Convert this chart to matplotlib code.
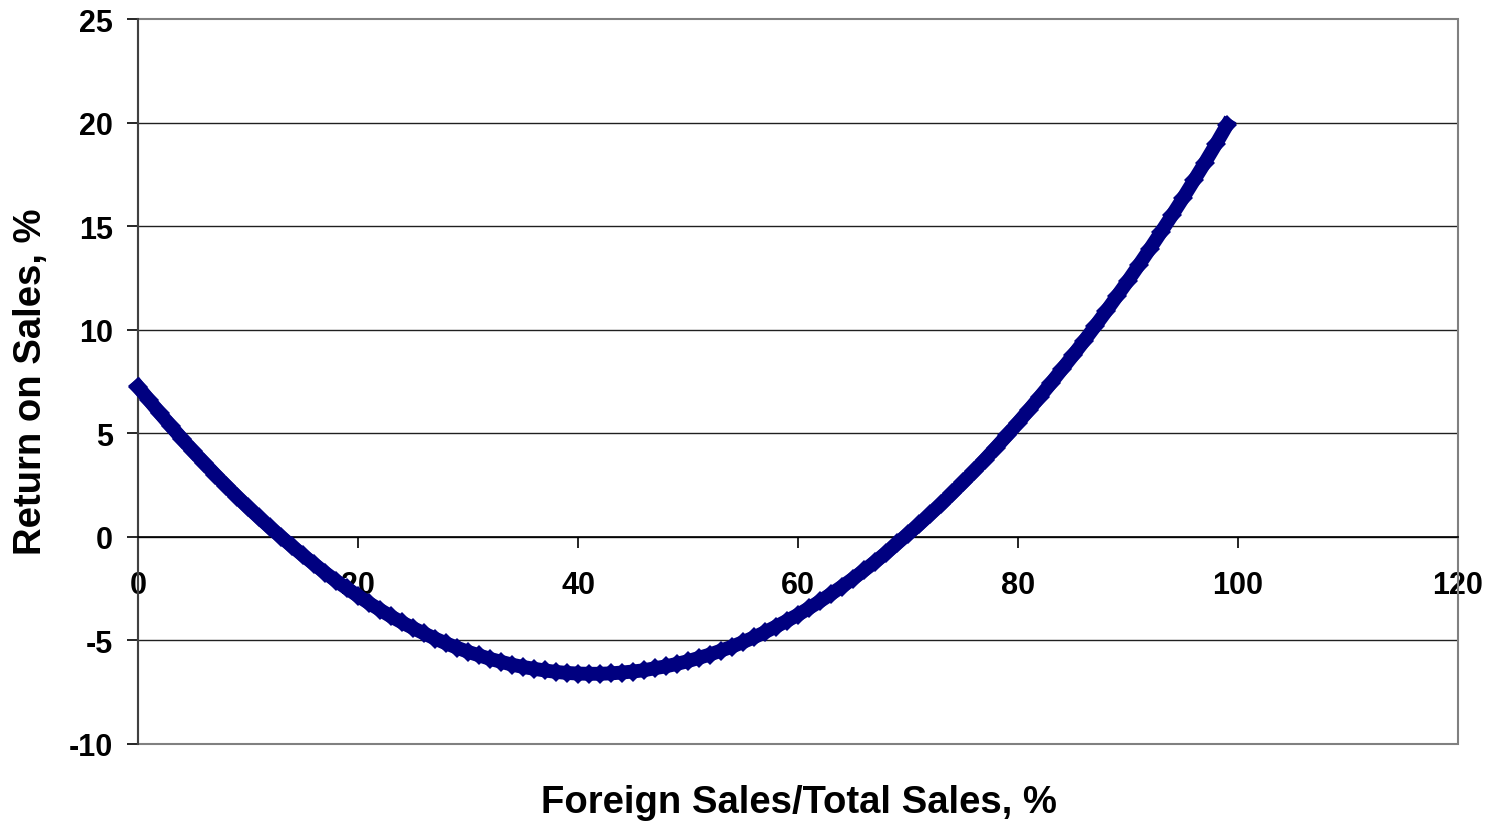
import matplotlib.pyplot as plt
from matplotlib.patches import Rectangle

plt.rcParams['font.family'] = ['Liberation Sans', 'DejaVu Sans']
plt.rcParams['axes.unicode_minus'] = False

# foreign sales share (%) and return on sales (%)
foreign_share = list(range(0, 100))
return_on_sales = [
    7.25, 6.60, 5.96, 5.34, 4.73, 4.14, 3.57, 3.01, 2.47, 1.94,
    1.43, 0.94, 0.46, 0.00, -0.45, -0.89, -1.31, -1.73, -2.12, -2.49,
    -2.85, -3.20, -3.52, -3.84, -4.13, -4.40, -4.66, -4.91, -5.14, -5.35,
    -5.55, -5.72, -5.89, -6.03, -6.17, -6.28, -6.37, -6.45, -6.52, -6.57,
    -6.60, -6.61, -6.61, -6.59, -6.55, -6.50, -6.44, -6.34, -6.25, -6.13,
    -6.00, -5.84, -5.68, -5.49, -5.30, -5.08, -4.85, -4.60, -4.33, -4.05,
    -3.76, -3.44, -3.11, -2.76, -2.40, -2.02, -1.62, -1.21, -0.78, -0.32,
    0.14, 0.60, 1.09, 1.58, 2.10, 2.63, 3.17, 3.73, 4.31, 4.90,
    5.51, 6.13, 6.77, 7.42, 8.09, 8.76, 9.45, 10.16, 10.88, 11.62,
    12.36, 13.13, 13.91, 14.71, 15.52, 16.35, 17.21, 18.07, 18.96, 19.88,
]
x_ticks = [0, 20, 40, 60, 80, 100, 120]
y_ticks = [-10, -5, 0, 5, 10, 15, 20, 25]

fig = plt.figure(figsize=(14.91, 8.28), dpi=100)
ax = fig.add_axes([138 / 1491, 1 - 745 / 828, 1320 / 1491, 725 / 828])

ax.plot(foreign_share, return_on_sales, color='#000080', linewidth=10,
        marker='D', markersize=10, markeredgewidth=0, zorder=4, clip_on=False)

ax.set_xlim(0, 120)
ax.set_ylim(-10, 25)
ax.set_xticks(x_ticks)
ax.set_yticks(y_ticks)

# horizontal gridlines
for v in y_ticks[1:-1]:
    ax.axhline(v, color='#202020', linewidth=1, zorder=1)

# plot area border
ax.add_patch(Rectangle((0, 0), 1, 1, transform=ax.transAxes, fill=False,
                       edgecolor='#808080', linewidth=1.5, zorder=2, clip_on=False))

for s in ['top', 'right']:
    ax.spines[s].set_visible(False)
ax.spines['bottom'].set_position(('data', 0))
ax.spines['bottom'].set_color('black')
ax.spines['bottom'].set_linewidth(1.2)
ax.spines['left'].set_color('#404040')
ax.spines['left'].set_linewidth(1.5)

ax.tick_params(axis='x', direction='out', length=8, width=1.2, pad=16)
ax.tick_params(axis='y', direction='out', length=8, width=1.2, pad=10)
for lab in ax.get_xticklabels() + ax.get_yticklabels():
    lab.set_fontsize(22)
    lab.set_fontweight('bold')

fig.text(799 / 1491, 1 - 803 / 828, 'Foreign Sales/Total Sales, %', ha='center',
         va='center', fontsize=27.5, fontweight='bold')
fig.text(31 / 1491, 1 - 382 / 828, 'Return on Sales, %', ha='center', va='center',
         rotation=90, fontsize=27.5, fontweight='bold')

fig.savefig('out.png', dpi=100)
